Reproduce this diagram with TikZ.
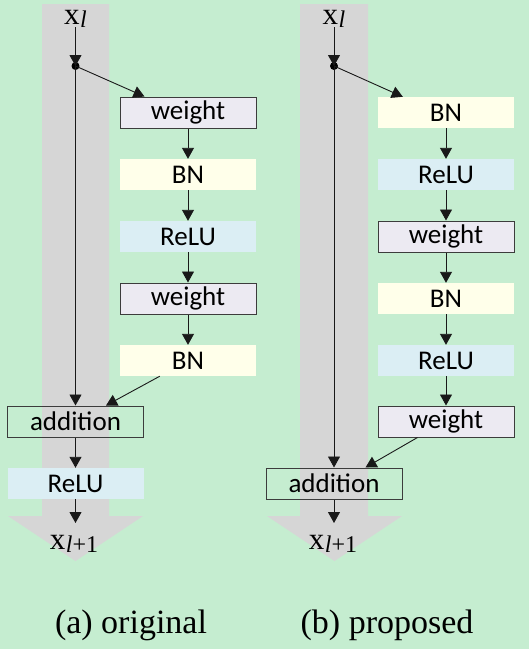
\documentclass[tikz,border=0pt]{standalone}
\usepackage{fontspec}
\setmainfont{Liberation Serif}
\newfontfamily\boxfont{Carlito}
\usetikzlibrary{arrows.meta}
\definecolor{bgc}{RGB}{197,237,208}
\definecolor{bandc}{RGB}{214,214,214}
\definecolor{wfill}{RGB}{236,234,242}
\definecolor{bnfill}{RGB}{255,255,234}
\definecolor{relufill}{RGB}{219,238,244}
\definecolor{bordc}{RGB}{60,60,60}
\tikzset{
  base box/.style={minimum width=136pt, minimum height=31pt, inner sep=0pt,
    font=\boxfont\fontsize{27}{27}\selectfont},
  wbox/.style={base box, draw=bordc, line width=1pt, fill=wfill},
  bnbox/.style={base box, fill=bnfill},
  relubox/.style={base box, fill=relufill},
  addbox/.style={base box, draw=bordc, line width=1pt},
  conn/.style={draw=black!90, line width=0.9pt, -{Triangle[length=11pt,width=12pt]}},
  band/.style={fill=bandc, draw=none},
  xlabel/.style={inner sep=0pt, font=\fontsize{31}{31}\selectfont},
  caption/.style={inner sep=0pt, font=\fontsize{34}{34}\selectfont},
}
\newcommand{\subl}[1]{\kern0.5pt\raisebox{-3pt}{\fontsize{24}{24}\selectfont #1}}
\begin{document}
\begin{tikzpicture}[x=1pt,y=-1pt]
\useasboundingbox (0,0) rectangle (529,649);
\fill[bgc] (0,0) rectangle (529,649);
% bands
\path[band] (42,4) -- (109,4) -- (109,516) -- (143,516) -- (75.5,561) -- (8,516) -- (42,516) -- cycle;
\path[band] (300,4) -- (368,4) -- (368,516) -- (402,516) -- (334.5,561) -- (267,516) -- (300,516) -- cycle;

% ---- (a) original
\node[xlabel, anchor=base] (xa) at (75.5,24) {x\subl{\itshape l}};
\fill (75.5,66) circle (4pt);
\coordinate (da) at (75.5,66);
\node[wbox] (aw1) at (188,112.5) {weight};
\node[bnbox] (abn1) at (188,174.5) {BN};
\node[relubox] (arelu1) at (188,236.5) {ReLU};
\node[wbox] (aw2) at (188,298.5) {weight};
\node[bnbox] (abn2) at (188,360.5) {BN};
\node[addbox] (aadd) at (75.5,421.5) {addition};
\node[relubox] (arelu2) at (75.5,483.5) {ReLU};
\coordinate (ta) at (75.5,523);
\node[xlabel, anchor=base] (xa2) at (74,549) {x\subl{{\itshape l}+1}};

\draw[conn] (xa.south) -- (da);
\draw[conn] (da) -- ([xshift=25pt]aw1.north west);
\draw[conn] (aw1) -- (abn1);
\draw[conn] (abn1) -- (arelu1);
\draw[conn] (arelu1) -- (aw2);
\draw[conn] (aw2) -- (abn2);
\draw[conn] (da) -- (aadd.north);
\draw[conn] ([xshift=40pt]abn2.south west) -- ([xshift=-38pt]aadd.north east);
\draw[conn] (aadd) -- (arelu2);
\draw[conn] (arelu2) -- (ta);

% ---- (b) proposed
\node[xlabel, anchor=base] (xb) at (334,24) {x\subl{\itshape l}};
\fill (334,66) circle (4pt);
\coordinate (db) at (334,66);
\node[bnbox] (bbn1) at (446,112.5) {BN};
\node[relubox] (brelu1) at (446,174.5) {ReLU};
\node[wbox] (bw1) at (446,236.5) {weight};
\node[bnbox] (bbn2) at (446,298.5) {BN};
\node[relubox] (brelu2) at (446,360.5) {ReLU};
\node[wbox] (bw2) at (446,421.5) {weight};
\node[addbox] (badd) at (334,483.5) {addition};
\coordinate (tb) at (334,523);
\node[xlabel, anchor=base] (xb2) at (333,549) {x\subl{{\itshape l}+1}};

\draw[conn] (xb.south) -- (db);
\draw[conn] (db) -- ([xshift=25pt]bbn1.north west);
\draw[conn] (bbn1) -- (brelu1);
\draw[conn] (brelu1) -- (bw1);
\draw[conn] (bw1) -- (bbn2);
\draw[conn] (bbn2) -- (brelu2);
\draw[conn] (brelu2) -- (bw2);
\draw[conn] (db) -- (badd.north);
\draw[conn] ([xshift=40pt]bw2.south west) -- ([xshift=-37pt]badd.north east);
\draw[conn] (badd) -- (tb);

% captions
\node[caption, anchor=base] (capa) at (131,633) {(a) original};
\node[caption, anchor=base] (capb) at (387,633) {(b) proposed};
\end{tikzpicture}
\end{document}
